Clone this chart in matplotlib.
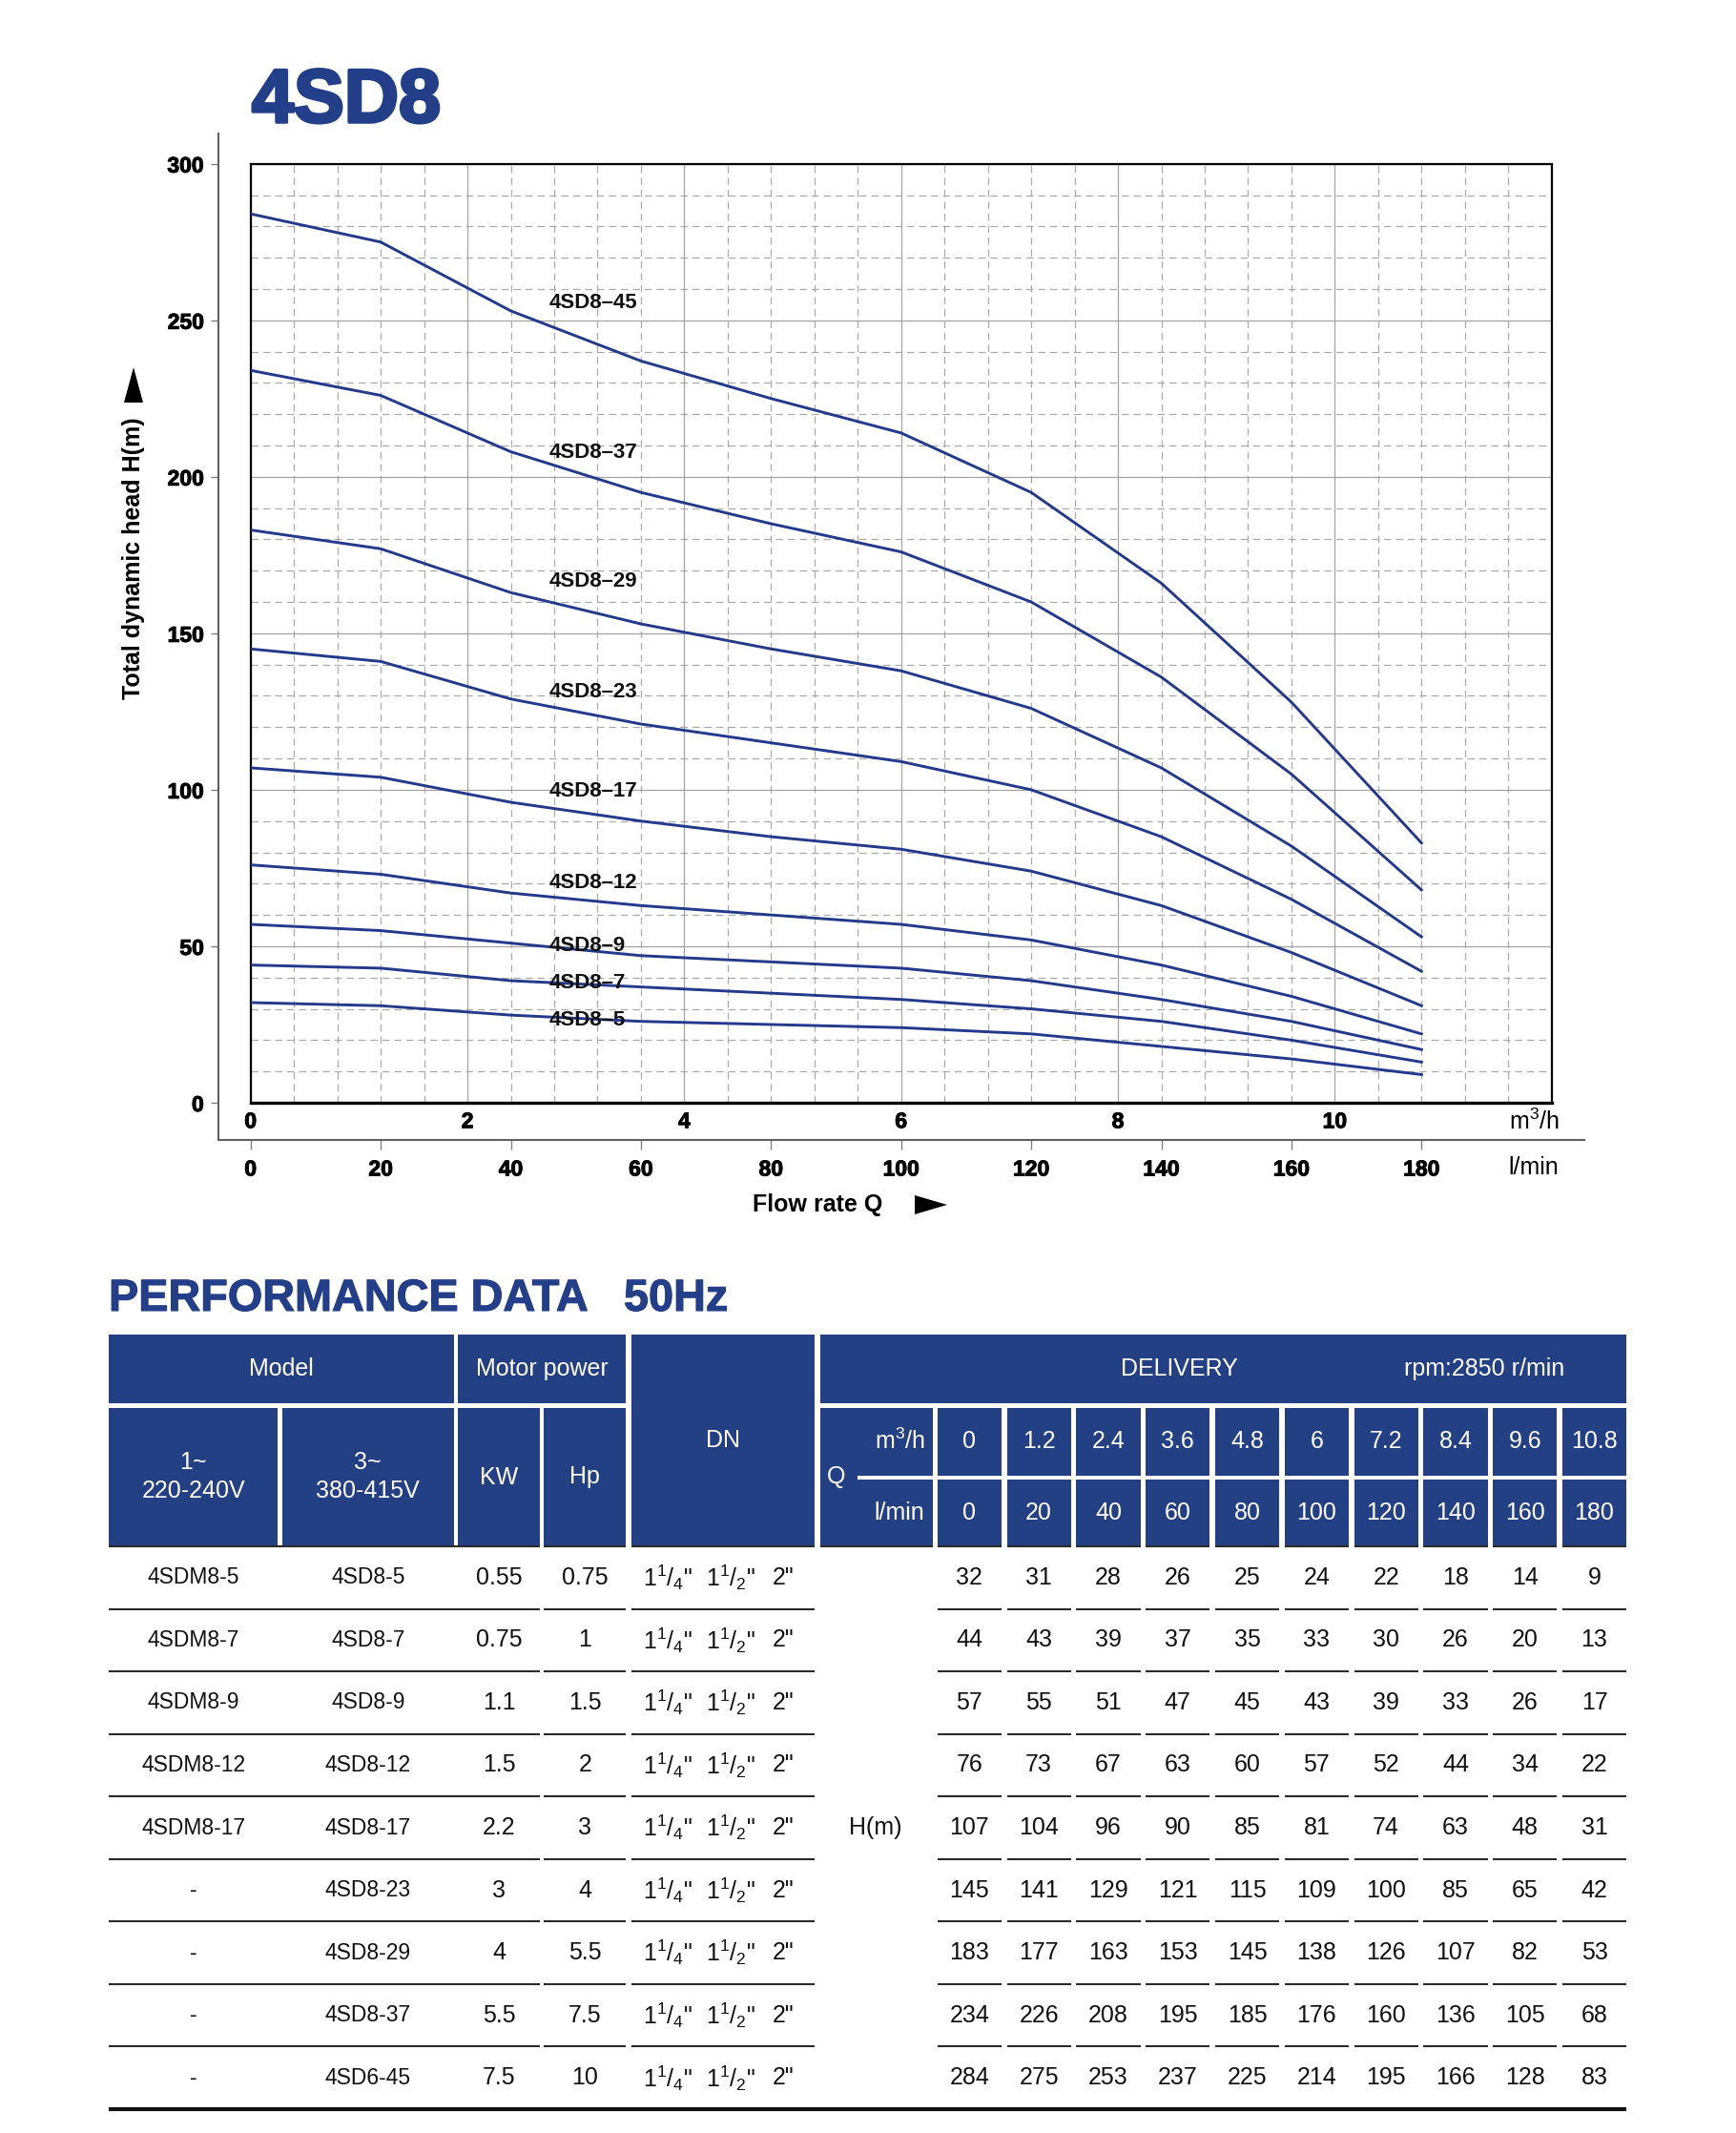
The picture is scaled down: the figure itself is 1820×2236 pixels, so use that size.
import numpy as np
import matplotlib
matplotlib.use('Agg')
import matplotlib.pyplot as plt
import matplotlib.patheffects as pe
from matplotlib.patches import Rectangle, Polygon
from matplotlib.ticker import MultipleLocator

plt.rcParams['font.family'] = ['Liberation Sans', 'DejaVu Sans']
plt.rcParams['mathtext.fontset'] = 'custom'
plt.rcParams['mathtext.rm'] = 'Liberation Sans'
plt.rcParams['mathtext.it'] = 'Liberation Sans:italic'
plt.rcParams['mathtext.bf'] = 'Liberation Sans:bold'
plt.rcParams['mathtext.default'] = 'rm'

# ---------------- data ----------------
q_m3h = [0, 1.2, 2.4, 3.6, 4.8, 6, 7.2, 8.4, 9.6, 10.8]
q_lmin = [0, 20, 40, 60, 80, 100, 120, 140, 160, 180]
q_m3h_labels = ['0', '1.2', '2.4', '3.6', '4.8', '6', '7.2', '8.4', '9.6', '10.8']

models_1ph = ['4SDM8-5', '4SDM8-7', '4SDM8-9', '4SDM8-12', '4SDM8-17', '-', '-', '-', '-']
models_3ph = ['4SD8-5', '4SD8-7', '4SD8-9', '4SD8-12', '4SD8-17', '4SD8-23', '4SD8-29', '4SD8-37', '4SD6-45']
power_kw = ['0.55', '0.75', '1.1', '1.5', '2.2', '3', '4', '5.5', '7.5']
power_hp = ['0.75', '1', '1.5', '2', '3', '4', '5.5', '7.5', '10']
dn_sizes = ['1$^{1}$/$_{4}$"', '1$^{1}$/$_{2}$"', '2"']

head_5 = [32, 31, 28, 26, 25, 24, 22, 18, 14, 9]
head_7 = [44, 43, 39, 37, 35, 33, 30, 26, 20, 13]
head_9 = [57, 55, 51, 47, 45, 43, 39, 33, 26, 17]
head_12 = [76, 73, 67, 63, 60, 57, 52, 44, 34, 22]
head_17 = [107, 104, 96, 90, 85, 81, 74, 63, 48, 31]
head_23 = [145, 141, 129, 121, 115, 109, 100, 85, 65, 42]
head_29 = [183, 177, 163, 153, 145, 138, 126, 107, 82, 53]
head_37 = [234, 226, 208, 195, 185, 176, 160, 136, 105, 68]
head_45 = [284, 275, 253, 237, 225, 214, 195, 166, 128, 83]
heads = [head_5, head_7, head_9, head_12, head_17, head_23, head_29, head_37, head_45]

curve_names = ['4SD8–5', '4SD8–7', '4SD8–9', '4SD8–12', '4SD8–17',
               '4SD8–23', '4SD8–29', '4SD8–37', '4SD8–45']
label_q = 2.75
label_heads = [26.5, 38.3, 50.0, 70.4, 99.6, 131.3, 166.5, 207.8, 255.6]

y_ticks = [0, 50, 100, 150, 200, 250, 300]
x_ticks_m3h = [0, 2, 4, 6, 8, 10, 12]
x_ticklabels_m3h = ['0', '2', '4', '6', '8', '10', '']

# ---------------- styles ----------------
BLUE = '#244084'
CURVE = '#233a8c'
TITLE = '#233f8a'
HEAVY = [pe.withStroke(linewidth=0.7, foreground='black')]

W, H = 1820, 2236
fig = plt.figure(figsize=(W / 100, H / 100), dpi=100)
bg = fig.add_axes([0, 0, 1, 1], zorder=0)
bg.set_xlim(0, W)
bg.set_ylim(H, 0)
bg.axis('off')


def fx(px):
    return px / W


def fy(py):
    return 1 - py / H


# ---------------- chart ----------------
PL, PR, PT, PB = 262.7, 1626.7, 171.7, 1156.0
ax = fig.add_axes([fx(PL), fy(PB), fx(PR) - fx(PL), fy(PT) - fy(PB)], zorder=2)
ax.set_xlim(0, 12)
ax.set_ylim(0, 300)
ax.patch.set_alpha(0)
ax.set_xticks(x_ticks_m3h, labels=x_ticklabels_m3h)
ax.xaxis.set_minor_locator(MultipleLocator(0.4))
ax.set_yticks(y_ticks)
ax.yaxis.set_minor_locator(MultipleLocator(10))
ax.tick_params(axis='both', which='both', length=0)
ax.tick_params(axis='y', labelleft=False)
ax.tick_params(axis='x', pad=6, labelsize=16.5)
for t in ax.get_xticklabels():
    t.set_fontweight('bold')
    t.set_path_effects(HEAVY)
ax.grid(which='major', color='#a3a3a3', lw=0.9, ls='-')
ax.grid(which='minor', color='#aaaaaa', lw=0.9, ls=(0, (6, 4)))
for s in ['left', 'top', 'right']:
    ax.spines[s].set_linewidth(1.6)
    ax.spines[s].set_color('black')
ax.spines['bottom'].set_linewidth(2.4)
ax.spines['bottom'].set_color('black')

for h, lab, ly in zip(heads, curve_names, label_heads):
    ax.plot(q_m3h, h, color=CURVE, lw=2.1, solid_joinstyle='round', zorder=3)
    ax.text(label_q, ly, lab, fontsize=16, fontweight='bold', va='center',
            ha='left', zorder=4, color='#111111')

# outer L-frame with l/min axis
OL, OR, OT, OB = 229.0, 1661.0, 140.0, 1195.0
sx = 12 / (PR - PL)
sy = 300 / (PB - PT)
axo = fig.add_axes([fx(OL), fy(OB), fx(OR) - fx(OL), fy(OT) - fy(OB)], zorder=1)
axo.patch.set_alpha(0)
axo.set_xlim((OL - PL) * sx, (OR - PL) * sx)
axo.set_ylim(-(OB - PB) * sy, 300 + (PT - OT) * sy)
for s in ['top', 'right']:
    axo.spines[s].set_visible(False)
for s in ['left', 'bottom']:
    axo.spines[s].set_color('#606060')
    axo.spines[s].set_linewidth(1.5)
axo.set_yticks(y_ticks, labels=[str(v) for v in y_ticks])
axo.set_xticks([l * 0.06 for l in q_lmin], labels=[str(l) for l in q_lmin])
axo.tick_params(axis='y', length=6, width=1, color='#808080', pad=5, labelsize=16.5)
axo.tick_params(axis='x', length=7, width=1, color='#808080', pad=7, labelsize=16.5)
for t in axo.get_xticklabels() + axo.get_yticklabels():
    t.set_fontweight('bold')
    t.set_path_effects(HEAVY)

bg.text(1608, 1176, 'm$^{3}$/h', fontsize=18, ha='center', va='center')
bg.text(1608, 1224, 'l/min', fontsize=18, ha='center', va='center')

# axis titles
bg.text(140, 585, 'Total dynamic head H(m)', fontsize=18, fontweight='bold',
        rotation=90, ha='center', va='center')
bg.add_patch(Polygon([(130, 422), (150, 422), (140, 385)], closed=True,
                     facecolor='black', edgecolor='none'))
bg.text(857, 1263, 'Flow rate Q', fontsize=18, fontweight='bold',
        ha='center', va='center')
bg.add_patch(Polygon([(959, 1253), (959, 1273), (993, 1263)], closed=True,
                     facecolor='black', edgecolor='none'))

# titles
bg.text(264, 128, '4SD8', fontsize=57, fontweight='bold', color=TITLE,
        ha='left', va='baseline',
        path_effects=[pe.withStroke(linewidth=2.5, foreground=TITLE)])
bg.text(114, 1374, 'PERFORMANCE DATA   50Hz', fontsize=33.7, fontweight='bold',
        color=TITLE, ha='left', va='baseline',
        path_effects=[pe.withStroke(linewidth=0.8, foreground=TITLE)])

# ---------------- table ----------------
TT = 1399.0      # table top
R1B = 1471.0     # header row1 bottom
R2T = 1476.0     # header row2 top
MID1, MID2 = 1546.5, 1550.5
HB = 1621.0      # header bottom
ROWH = 65.56
X_M1 = (114.3, 291.0)
X_M3 = (295.7, 475.8)
X_KW = (480.0, 566.0)
X_HP = (570.3, 656.3)
X_DN = (662.0, 854.0)
X_Q = (859.8, 978.0)
COL0, COLSTEP, COLW = 982.7, 72.8, 67.3
XR = COL0 + 9 * COLSTEP + COLW
FS = 18
FS_MODEL = 16.5


def cell(x0, x1, y0, y1):
    bg.add_patch(Rectangle((x0, y0), x1 - x0, y1 - y0, facecolor=BLUE,
                           edgecolor='none', zorder=1))


def wtxt(x, y, s):
    bg.text(x, y, s, fontsize=FS, color='white', ha='center', va='center', zorder=2)


cell(X_M1[0], X_M3[1], TT, R1B)
cell(X_KW[0], X_HP[1], TT, R1B)
cell(X_DN[0], X_DN[1], TT, HB)
cell(X_Q[0], XR, TT, R1B)
for xs in (X_M1, X_M3, X_KW, X_HP):
    cell(xs[0], xs[1], R2T, HB)
cell(X_Q[0], X_Q[1], R2T, HB)
bg.add_patch(Rectangle((899, MID1), X_Q[1] - 899, MID2 - MID1, facecolor='white',
                       edgecolor='none', zorder=1.5))
for j in range(10):
    x0 = COL0 + j * COLSTEP
    cell(x0, x0 + COLW, R2T, MID1)
    cell(x0, x0 + COLW, MID2, HB)

yc1 = (TT + R1B) / 2
yc2 = (R2T + HB) / 2
ym = (R2T + MID1) / 2
yl = (MID2 + HB) / 2
wtxt((X_M1[0] + X_M3[1]) / 2, yc1, 'Model')
wtxt((X_KW[0] + X_HP[1]) / 2, yc1, 'Motor power')
wtxt((X_DN[0] + X_DN[1]) / 2, (TT + HB) / 2, 'DN')
wtxt(1236, yc1, 'DELIVERY')
wtxt(1556, yc1, 'rpm:2850 r/min')
wtxt((X_M1[0] + X_M1[1]) / 2, yc2 - 15, '1~')
wtxt((X_M1[0] + X_M1[1]) / 2, yc2 + 15, '220-240V')
wtxt((X_M3[0] + X_M3[1]) / 2, yc2 - 15, '3~')
wtxt((X_M3[0] + X_M3[1]) / 2, yc2 + 15, '380-415V')
wtxt((X_KW[0] + X_KW[1]) / 2, yc2, 'KW')
wtxt((X_HP[0] + X_HP[1]) / 2, yc2, 'Hp')
wtxt(877, yc2, 'Q')
wtxt(943, ym, 'm$^{3}$/h')
wtxt(943, yl, 'l/min')
for j in range(10):
    xc = COL0 + j * COLSTEP + COLW / 2
    wtxt(xc, ym, q_m3h_labels[j])
    wtxt(xc, yl, str(q_lmin[j]))


def hline(x0, x1, y, lw=1.5, c='#2a2a2a'):
    bg.plot([x0, x1], [y, y], color=c, lw=lw, solid_capstyle='butt', zorder=3)


seg_left = [(X_M1[0], X_KW[1]), X_HP, X_DN]
for k in range(10):
    y = HB + k * ROWH
    if k == 9:
        hline(X_M1[0], XR, y, lw=3.0, c='#111111')
        continue
    for a, b in seg_left:
        hline(a, b, y)
    if k == 0:
        hline(X_Q[0], X_Q[1], y)
    for j in range(10):
        x0 = COL0 + j * COLSTEP
        hline(x0, x0 + COLW, y)

dn_x = [700, 766, 821]
for i in range(9):
    yc = HB + ROWH * (i + 0.5)
    kw = dict(fontsize=FS, color='#111111', ha='center', va='center')
    kwm = dict(kw, fontsize=FS_MODEL)
    bg.text((X_M1[0] + X_M1[1]) / 2, yc, models_1ph[i], **kwm)
    bg.text((X_M3[0] + X_M3[1]) / 2, yc, models_3ph[i], **kwm)
    bg.text((X_KW[0] + X_KW[1]) / 2, yc, power_kw[i], **kw)
    bg.text((X_HP[0] + X_HP[1]) / 2, yc, power_hp[i], **kw)
    for xd, s in zip(dn_x, dn_sizes):
        bg.text(xd, yc, s, **kw)
    for j in range(10):
        xc = COL0 + j * COLSTEP + COLW / 2
        bg.text(xc, yc, str(heads[i][j]), **kw)
bg.text(918, HB + ROWH * 4.5, 'H(m)', fontsize=FS, color='#111111',
        ha='center', va='center')

fig.savefig('out.png', dpi=100)
